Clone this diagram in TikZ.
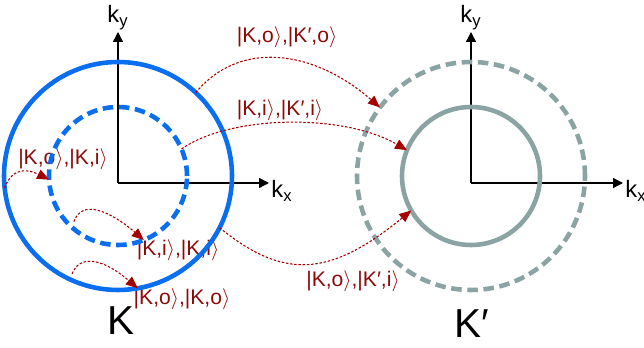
\documentclass[tikz,border=0pt]{standalone}
\usepackage{fontspec}
\setmainfont{Liberation Sans}
\usetikzlibrary{arrows.meta}
\definecolor{vblue}{RGB}{10,110,240}
\definecolor{vgray}{RGB}{140,163,163}
\definecolor{hopred}{RGB}{165,0,0}
\definecolor{labred}{RGB}{140,10,10}
\newcommand{\ketK}[1]{|#1$\rangle$}

\begin{document}
\begin{tikzpicture}[scale=1.0,
    valley/.style={circle,draw,inner sep=0pt,outer sep=0pt,line width=2.6pt},
    axis/.style={line width=0.8pt,-{Triangle[length=0.2cm,width=0.2cm]}},
    hop/.style={hopred,line width=0.6pt,dash pattern=on 1.4pt off 1pt,
      -{Triangle[length=0.24cm,width=0.2cm]}},
    hoplabel/.style={text=labred,font=\fontsize{12}{14}\selectfont,inner sep=0pt},
    klabel/.style={font=\fontsize{13.5}{15}\selectfont,inner sep=1pt}]
  \useasboundingbox (0,0) rectangle (12.88,6.96);
  % labels of the scattering channels (under the circles)
  \node[hoplabel] (lKoKi)   at (1.26,3.78) {\ketK{K,o},\ketK{K,i}};
  \node[hoplabel] (lKiKi)   at (3.56,1.96) {\ketK{K,i},\ketK{K,i}};
  \node[hoplabel] (lKoKo)   at (3.64,0.98) {\ketK{K,o},\ketK{K,o}};
  \node[hoplabel] (lKoKpo)  at (5.74,6.22) {\ketK{K,o},\ketK{K′,o}};
  \node[hoplabel] (lKiKpi)  at (5.60,4.76) {\ketK{K,i},\ketK{K′,i}};
  \node[hoplabel] (lKoKpi)  at (7.06,1.34) {\ketK{K,o},\ketK{K′,i}};
  % K valley
  \coordinate (oK) at (2.36,3.30);
  \coordinate (kxK) at (5.38,3.30);
  \coordinate (kyK) at (2.36,6.32);
  \draw[axis] (oK) -- (kxK) node[klabel,right,yshift=-0.16cm]{k\textsubscript{x}};
  \draw[axis] (oK) -- (kyK) node[klabel,above]{k\textsubscript{y}};
  \node[valley,vblue,minimum size=4.56cm] (Ko) at (2.36,3.44) {};
  \node[valley,vblue,dash pattern=on 6pt off 3.2pt,minimum size=2.76cm] (Ki) at (2.36,3.44) {};
  \node[font=\fontsize{23}{25}\selectfont] (vK) at (2.42,0.54) {K};
  % K' valley
  \coordinate (oKp) at (9.42,3.30);
  \coordinate (kxKp) at (12.46,3.30);
  \coordinate (kyKp) at (9.42,6.32);
  \draw[axis] (oKp) -- (kxKp) node[klabel,right,yshift=-0.16cm]{k\textsubscript{x}};
  \draw[axis] (oKp) -- (kyKp) node[klabel,above]{k\textsubscript{y}};
  \node[valley,vgray,dash pattern=on 6pt off 3.2pt,minimum size=4.56cm] (Kpo) at (9.42,3.44) {};
  \node[valley,vgray,minimum size=2.76cm] (Kpi) at (9.42,3.44) {};
  \node[font=\fontsize{23}{25}\selectfont] (vKp) at (9.44,0.48) {K′};
  % intravalley hops
  \draw[hop] (Ko.186) .. controls +(0.16,0.44) and +(-0.4,0.2) .. (Ki.183);
  \draw[hop,shorten <=0.12cm] (Ki.228) .. controls +(0.2,0.56) and +(-0.7,0.6) .. (Ki.292);
  \draw[hop,shorten <=0.12cm] (Ko.245) .. controls +(0.2,0.5) and +(-0.7,0.6) .. (Ko.280);
  % intervalley hops
  \draw[hop] (Ko.47) .. controls +(0.86,1.04) and +(-1.36,1.18) .. (Kpo.143);
  \draw[hop] (Ki.23) .. controls +(0.92,0.66) and +(-1.32,0.76) .. (Kpi.158);
  \draw[hop] (Ko.333) .. controls +(1.26,-1.02) and +(-1.66,-1.36) .. (Kpi.210);
\end{tikzpicture}
\end{document}
